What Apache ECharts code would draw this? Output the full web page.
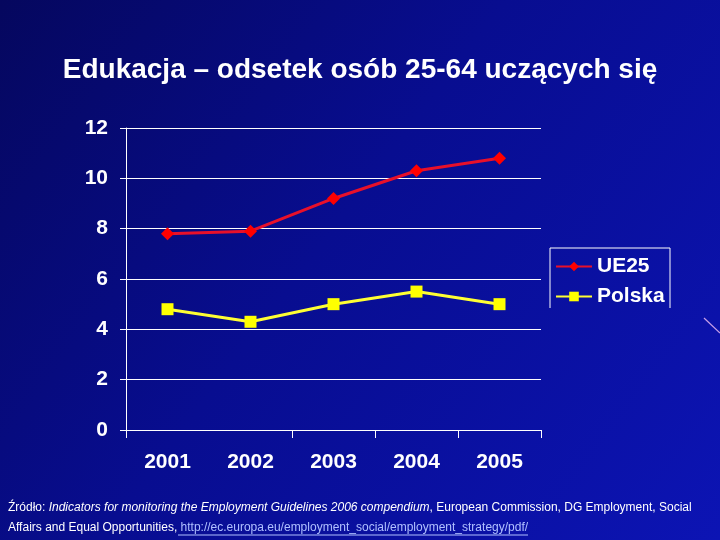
<!DOCTYPE html>
<html>
<head>
<meta charset="utf-8">
<script src="https://cdn.jsdelivr.net/npm/echarts@6/dist/echarts.min.js"></script>
<style>
html,body{margin:0;padding:0;background:#070b80;}
#chart{width:720px;height:540px;}
</style>
</head>
<body>
<div id="chart"></div>
<script>
const titleText = 'Edukacja – odsetek osób 25-64 uczących się';
const categories = ['2001', '2002', '2003', '2004', '2005'];
const ue25 = [7.8, 7.9, 9.2, 10.3, 10.8];
const polska = [4.8, 4.3, 5.0, 5.5, 5.0];
const seriesNames = ['UE25', 'Polska'];
const yTicks = { min: 0, max: 12, interval: 2 };

const chart = echarts.init(document.getElementById('chart'));
const font = 'Liberation Sans, Arial, sans-serif';

const option = {
  backgroundColor: {
    type: 'linear', x: 0, y: 0, x2: 1, y2: 1,
    colorStops: [
      { offset: 0, color: '#05075e' },
      { offset: 0.45, color: '#080d90' },
      { offset: 1, color: '#0c14b4' }
    ]
  },
  animation: false,
  title: {
    text: titleText,
    left: 'center',
    top: 51,
    textStyle: { color: '#ffffff', fontFamily: font, fontWeight: 'bold', fontSize: 28 }
  },
  grid: { left: 126, right: 179, top: 128, bottom: 110 },
  legend: {
    orient: 'vertical',
    left: 551,
    top: 252,
    itemWidth: 36,
    itemHeight: 12,
    itemGap: 9,
    padding: [4, 6, 4, 4],
    textStyle: { color: '#ffffff', fontFamily: font, fontWeight: 'bold', fontSize: 21 },
    data: seriesNames
  },
  xAxis: {
    type: 'category',
    data: categories,
    boundaryGap: true,
    axisLine: { show: true, lineStyle: { color: '#ffffff', width: 1 } },
    axisTick: {
      show: true, length: 8, lineStyle: { color: '#ffffff' },
      interval: function (i) { return i !== 1 && i !== 5; }
    },
    axisLabel: { color: '#ffffff', fontFamily: font, fontWeight: 'bold', fontSize: 21, margin: 22, interval: 0 }
  },
  yAxis: {
    type: 'value',
    min: yTicks.min, max: yTicks.max, interval: yTicks.interval,
    axisLine: { show: true, lineStyle: { color: '#ffffff', width: 1 } },
    axisTick: { show: true, length: 6, lineStyle: { color: '#ffffff' } },
    splitLine: { show: true, lineStyle: { color: '#ffffff', width: 1 } },
    axisLabel: { color: '#ffffff', fontFamily: font, fontWeight: 'bold', fontSize: 21, margin: 18 }
  },
  series: [
    {
      name: seriesNames[0], type: 'line', data: ue25,
      symbol: 'diamond', symbolSize: 13,
      lineStyle: { color: '#e8102a', width: 3 },
      itemStyle: { color: '#ff0000' }
    },
    {
      name: seriesNames[1], type: 'line', data: polska,
      symbol: 'rect', symbolSize: 12,
      lineStyle: { color: '#ffff33', width: 3 },
      itemStyle: { color: '#ffff00' }
    }
  ],
  graphic: [
    {
      type: 'polyline', silent: true, z: 10,
      shape: { points: [[550, 308], [550, 248], [670, 248], [670, 308]] },
      style: { stroke: '#ffffff', lineWidth: 1, fill: null }
    },
    {
      type: 'line', silent: true,
      shape: { x1: 704, y1: 318, x2: 720, y2: 333 },
      style: { stroke: '#c8a0e8', lineWidth: 1.2 }
    },
    {
      type: 'text', left: 8, top: 502,
      style: {
        rich: {
          n: { fontFamily: font, fontSize: 12, fill: '#ffffff' },
          i: { fontFamily: font, fontSize: 12, fill: '#ffffff', fontStyle: 'italic' }
        },
        text: '{n|Źródło: }{i|Indicators for monitoring the Employment Guidelines 2006 compendium}{n|, European Commission, DG Employment, Social}'
      }
    },
    {
      type: 'text', left: 8, top: 522,
      style: {
        rich: {
          n: { fontFamily: font, fontSize: 12, fill: '#ffffff' },
          u: { fontFamily: font, fontSize: 12, fill: '#b0c0ff' }
        },
        text: '{n|Affairs and Equal Opportunities, }{u|http://ec.europa.eu/employment_social/employment_strategy/pdf/}'
      }
    },
    {
      type: 'line', silent: true,
      shape: { x1: 178, y1: 535, x2: 528, y2: 535 },
      style: { stroke: '#b0c0ff', lineWidth: 1 }
    }
  ]
};
chart.setOption(option);
</script>
</body>
</html>
